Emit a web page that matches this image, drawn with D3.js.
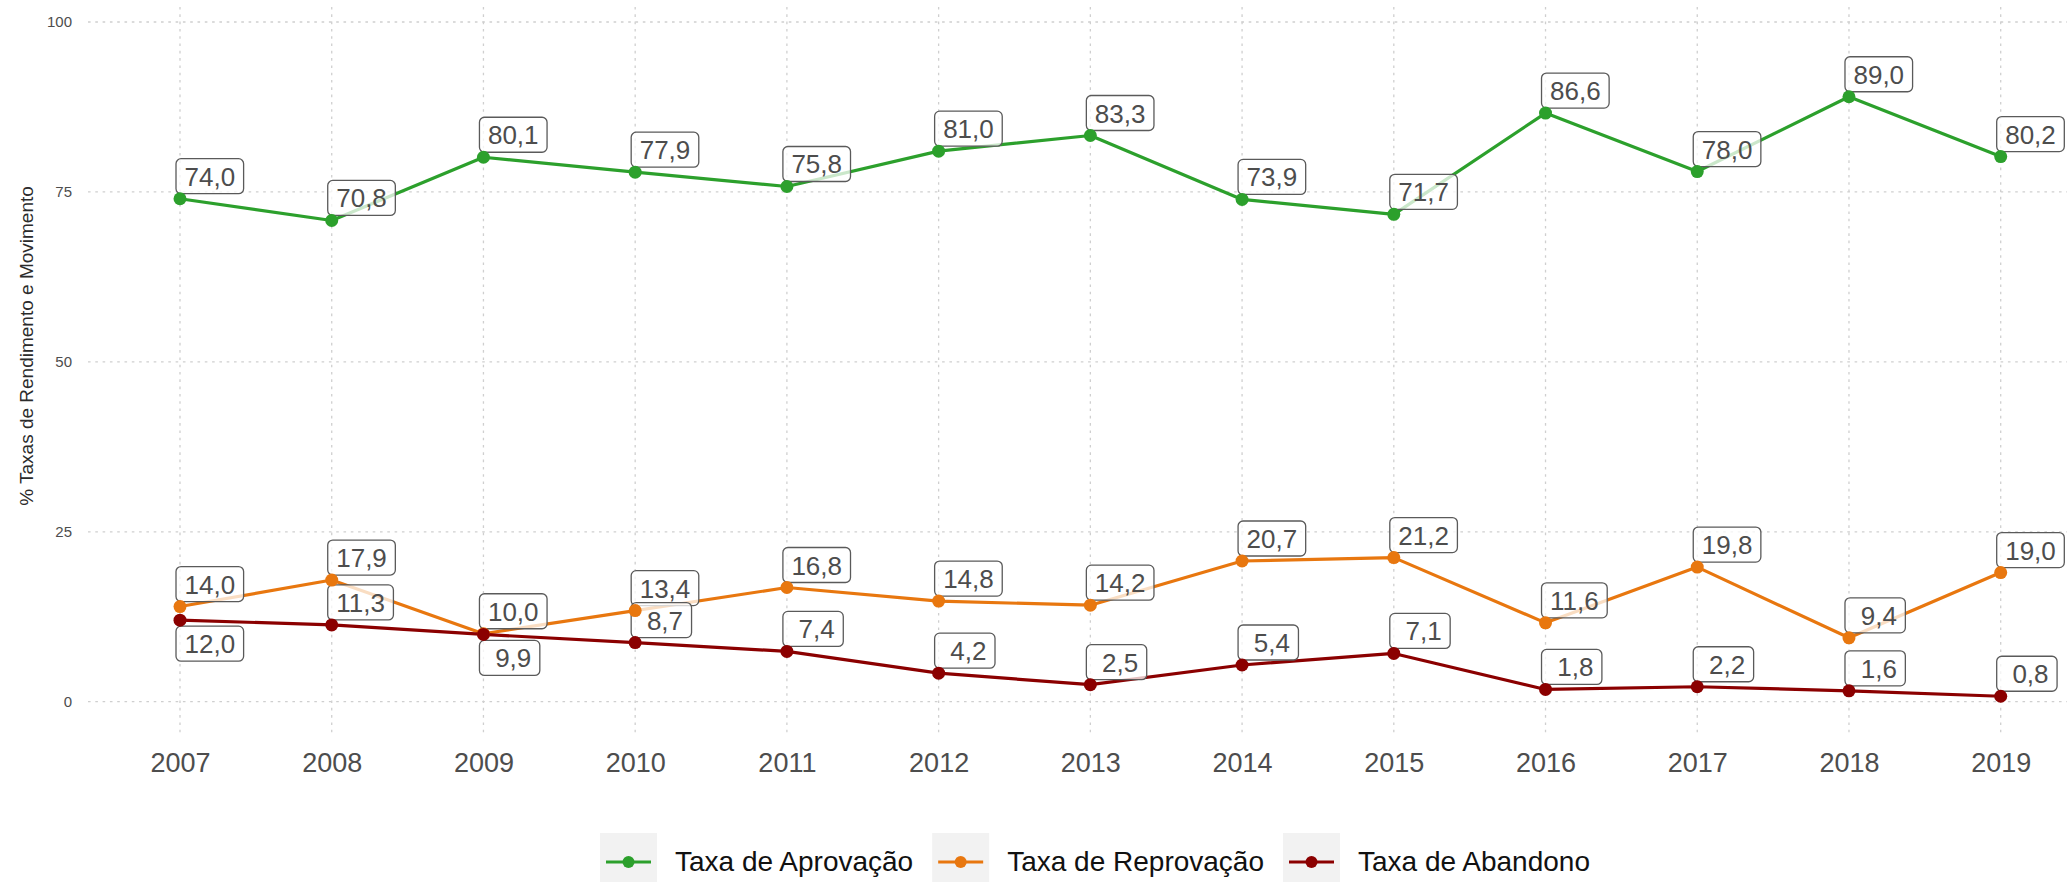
<!DOCTYPE html>
<html>
<head>
<meta charset="utf-8">
<script src="https://cdn.jsdelivr.net/npm/d3@7"></script>
<style>
  html, body { margin: 0; padding: 0; background: #ffffff; }
  svg { display: block; font-family: "Liberation Sans", Arial, Helvetica, sans-serif; }
</style>
</head>
<body>
<svg id="chart" width="2067" height="882"></svg>
<script>
// Taxas de rendimento por ano (%)
const anos = [2007, 2008, 2009, 2010, 2011, 2012, 2013, 2014, 2015, 2016, 2017, 2018, 2019];
const aprovacao  = [74.0, 70.8, 80.1, 77.9, 75.8, 81.0, 83.3, 73.9, 71.7, 86.6, 78.0, 89.0, 80.2];
const reprovacao = [14.0, 17.9, 10.0, 13.4, 16.8, 14.8, 14.2, 20.7, 21.2, 11.6, 19.8, 9.4, 19.0];
const abandono   = [12.0, 11.3, 9.9, 8.7, 7.4, 4.2, 2.5, 5.4, 7.1, 1.8, 2.2, 1.6, 0.8];
const yTicks = [0, 25, 50, 75, 100];
const nomesSeries = ["Taxa de Aprovação", "Taxa de Reprovação", "Taxa de Abandono"];
const coresSeries = ["#2ca02c", "#e8770f", "#8b0000"];
const tituloY = "% Taxas de Rendimento e Movimento";

const series = [
  { nome: nomesSeries[0], cor: coresSeries[0], valores: aprovacao },
  { nome: nomesSeries[1], cor: coresSeries[1], valores: reprovacao },
  { nome: nomesSeries[2], cor: coresSeries[2], valores: abandono }
];

const svg = d3.select("#chart");
const W = 2067;

// Panel geometry
const panel = { left: 88, right: W, top: 7, bottom: 735 };
const x = d3.scaleLinear().domain([2007, 2019]).range([180, 2000.7]);
const y = d3.scaleLinear().domain([0, 100]).range([701.7, 22]);

// Grid (dotted)
const grid = svg.append("g").attr("class", "grid")
  .attr("stroke", "#cfcfcf").attr("stroke-width", 1.3).attr("stroke-dasharray", "2.6,4.7");
grid.selectAll("line.h").data(yTicks).join("line").attr("class", "h")
  .attr("x1", panel.left).attr("x2", panel.right)
  .attr("y1", d => y(d)).attr("y2", d => y(d));
grid.selectAll("line.v").data(anos).join("line").attr("class", "v")
  .attr("x1", d => x(d)).attr("x2", d => x(d))
  .attr("y1", panel.top).attr("y2", panel.bottom);

// Axes
const yAxis = svg.append("g").attr("transform", `translate(${panel.left},0)`)
  .call(d3.axisLeft(y).tickValues(yTicks).tickSize(0).tickPadding(16).tickFormat(d3.format("d")));
yAxis.select(".domain").remove();
yAxis.selectAll("text").attr("font-size", 15).attr("fill", "#4d4d4d")
  .attr("font-family", "Liberation Sans, Arial, sans-serif");

const xAxis = svg.append("g").attr("transform", `translate(0,${panel.bottom})`)
  .call(d3.axisBottom(x).tickValues(anos).tickSize(0).tickPadding(17.5).tickFormat(d3.format("d")));
xAxis.select(".domain").remove();
xAxis.selectAll("text").attr("font-size", 27).attr("fill", "#4d4d4d")
  .attr("font-family", "Liberation Sans, Arial, sans-serif");

// Y title
svg.append("text")
  .attr("transform", `translate(32.5,346) rotate(-90)`)
  .attr("text-anchor", "middle")
  .attr("font-size", 19)
  .attr("fill", "#2b2b2b")
  .text(tituloY);

// Lines
const linha = d3.line().x((d, i) => x(anos[i])).y(d => y(d));
svg.append("g").selectAll("path").data(series).join("path")
  .attr("d", s => linha(s.valores))
  .attr("fill", "none")
  .attr("stroke", s => s.cor)
  .attr("stroke-width", 3.2)
  .attr("stroke-linejoin", "round");

// Value labels
const fmt = v => {
  const s = v.toFixed(1).replace(".", ",");
  return s.length < 4 ? " " + s : s;
};
const labelFont = 26;
const labelsG = svg.append("g");
series.forEach((s, si) => {
  s.valores.forEach((v, i) => {
    const px = x(anos[i]), py = y(v);
    // abandono label goes below the point when the reprovação point sits just above it
    const abaixo = si === 2 && (reprovacao[i] - v) < 3;
    const g = labelsG.append("g");
    const t = g.append("text")
      .attr("font-size", labelFont)
      .attr("fill", "#4d4d4d")
      .style("white-space", "pre")
      .attr("xml:space", "preserve")
      .text(fmt(v));
    const tw = t.node().getComputedTextLength();
    const bw = tw + 17, bh = 35;
    const bx = px - 4;
    const by = abaixo ? py + 6 : py - 5 - bh;
    g.insert("rect", "text")
      .attr("x", bx).attr("y", by)
      .attr("width", bw).attr("height", bh)
      .attr("rx", 5).attr("ry", 5)
      .attr("fill", "#ffffff").attr("fill-opacity", 0.75)
      .attr("stroke", "#5a5a5a").attr("stroke-width", 1.3);
    t.attr("x", bx + 8.5).attr("y", by + bh - 8);
  });
});

// Points
svg.append("g").selectAll("g").data(series).join("g")
  .attr("fill", s => s.cor)
  .selectAll("circle").data(s => s.valores).join("circle")
  .attr("cx", (d, i) => x(anos[i]))
  .attr("cy", d => y(d))
  .attr("r", 6.5);

// Legend
const legend = svg.append("g");
let lx = 600;
const keyW = 57, keyTop = 833, keyMid = 862;
series.forEach(s => {
  legend.append("rect").attr("x", lx).attr("y", keyTop).attr("width", keyW).attr("height", keyW)
    .attr("fill", "#f2f2f2");
  legend.append("line").attr("x1", lx + 6).attr("x2", lx + keyW - 6)
    .attr("y1", keyMid).attr("y2", keyMid)
    .attr("stroke", s.cor).attr("stroke-width", 3.2);
  legend.append("circle").attr("cx", lx + keyW / 2).attr("cy", keyMid).attr("r", 6).attr("fill", s.cor);
  const t = legend.append("text").attr("x", lx + keyW + 18).attr("y", 871)
    .attr("font-size", 28).attr("fill", "#111111").text(s.nome);
  lx = lx + keyW + 18 + t.node().getComputedTextLength() + 19;
});
</script>
</body>
</html>
